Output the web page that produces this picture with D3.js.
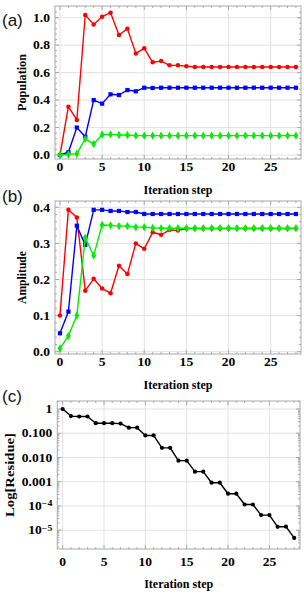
<!DOCTYPE html>
<html>
<head>
<meta charset="utf-8">
<script src="https://cdn.jsdelivr.net/npm/d3@7"></script>
<style>
  html, body { margin: 0; padding: 0; background: #fff; }
  svg { display: block; }
</style>
</head>
<body>
<svg id="chart"></svg>
<script>
// iteration steps 0..28
const steps = [0,1,2,3,4,5,6,7,8,9,10,11,12,13,14,15,16,17,18,19,20,21,22,23,24,25,26,27,28];

// (a) population
const popRed   = [0, 0.352, 0.255, 1.019, 0.951, 1.007, 1.036, 0.874, 0.92, 0.74, 0.777, 0.675, 0.684, 0.653, 0.653, 0.646,
                  0.641, 0.641, 0.641, 0.641, 0.641, 0.641, 0.641, 0.641, 0.641, 0.641, 0.641, 0.641, 0.641];
const popBlue  = [0, 0.02, 0.20, 0.133, 0.40, 0.374, 0.442, 0.437, 0.473, 0.464, 0.49, 0.488,
                  0.49, 0.49, 0.49, 0.49, 0.49, 0.49, 0.49, 0.49, 0.49, 0.49, 0.49, 0.49, 0.49, 0.49, 0.49, 0.49, 0.49];
const popGreen = [0, 0.005, 0.01, 0.117, 0.08, 0.148, 0.15, 0.146, 0.146,
                  0.141, 0.141, 0.141, 0.141, 0.141, 0.141, 0.141, 0.141, 0.141, 0.141, 0.141, 0.141, 0.141, 0.141, 0.141, 0.141, 0.141, 0.141, 0.141, 0.141];

// (b) amplitude
const ampRed   = [0.10, 0.393, 0.372, 0.169, 0.202, 0.175, 0.162, 0.238, 0.215, 0.30, 0.285, 0.331, 0.324, 0.337, 0.336,
                  0.341, 0.341, 0.341, 0.341, 0.341, 0.341, 0.341, 0.341, 0.341, 0.341, 0.341, 0.341, 0.341, 0.341];
const ampBlue  = [0.051, 0.111, 0.349, 0.296, 0.393, 0.393, 0.39, 0.39, 0.387, 0.387,
                  0.3815, 0.3815, 0.3815, 0.3815, 0.3815, 0.3815, 0.3815, 0.3815, 0.3815, 0.3815, 0.3815, 0.3815, 0.3815, 0.3815, 0.3815, 0.3815, 0.3815, 0.3815, 0.3815];
const ampGreen = [0.009, 0.044, 0.10, 0.316, 0.266, 0.351, 0.35, 0.348, 0.348, 0.345, 0.345, 0.343,
                  0.342, 0.342, 0.342, 0.342, 0.342, 0.342, 0.342, 0.342, 0.342, 0.342, 0.342, 0.342, 0.342, 0.342, 0.342, 0.342, 0.342];

// (c) residue
const residue = [1, 0.51, 0.49, 0.49, 0.26, 0.26, 0.26, 0.25, 0.17, 0.17, 0.081, 0.081, 0.025, 0.025, 0.0074, 0.0074,
                 0.0026, 0.0026, 0.00091, 0.00091, 0.00032, 0.00032, 0.000115, 0.000115, 0.000042, 0.000042, 0.0000138, 0.0000141, 0.0000048];

const stepTicks = [0, 5, 10, 15, 20, 25];
const popTicks = [0.0, 0.2, 0.4, 0.6, 0.8, 1.0];
const ampTicks = [0.0, 0.1, 0.2, 0.3, 0.4];
const residueTicks = [1, 0.1, 0.01, 0.001, 1e-4, 1e-5];
const residueTickLabels = ["1", "0.100", "0.010", "0.001", "10^-4", "10^-5"];

const width = 304, height = 594;
const svg = d3.select("#chart").attr("width", width).attr("height", height);

const frameColor = "#a8a8a8";
const gridColor = "#e2e2e2";
const serif = "'Liberation Serif', 'Times New Roman', serif";
const sx = 1.13; // glyphs in the picture are a bit wider than tall

function stretchedText(g, x, y, str, opts) {
    const t = g.append("text")
        .attr("transform", "translate(" + x + "," + y + ") scale(" + sx + ",1)")
        .attr("font-family", serif)
        .attr("font-weight", "bold")
        .attr("font-size", opts.size)
        .attr("text-anchor", opts.anchor)
        .attr("dy", opts.dy || 0)
        .attr("fill", "#000");
    const m = /^10\^(-?\d+)$/.exec(str);
    if (m) {
        t.append("tspan").text("10");
        t.append("tspan").attr("dy", "-0.45em").attr("font-size", opts.size * 0.72).text("\u2212" + m[1].replace("-", ""));
    } else {
        t.text(str);
    }
    return t;
}

function drawPanel(cfg) {
    const g = svg.append("g");
    const x = d3.scaleLinear().domain(cfg.xDomain).range([cfg.left, cfg.right]);
    const y = cfg.y;

    // grid
    g.selectAll(".vg").data(stepTicks).enter().append("line")
        .attr("x1", d => x(d)).attr("x2", d => x(d))
        .attr("y1", cfg.top).attr("y2", cfg.bottom)
        .attr("stroke", gridColor).attr("stroke-width", 1);
    g.selectAll(".hg").data(cfg.yTicks).enter().append("line")
        .attr("x1", cfg.left).attr("x2", cfg.right)
        .attr("y1", d => y(d)).attr("y2", d => y(d))
        .attr("stroke", gridColor).attr("stroke-width", 1);

    // frame
    g.append("rect")
        .attr("x", cfg.left).attr("y", cfg.top)
        .attr("width", cfg.right - cfg.left).attr("height", cfg.bottom - cfg.top)
        .attr("fill", "none").attr("stroke", frameColor).attr("stroke-width", 1);

    // inward ticks on all four sides
    const xMinor = d3.range(0, 29);
    xMinor.forEach(function (d) {
        const len = d % 5 === 0 ? 4 : 2;
        g.append("line").attr("x1", x(d)).attr("x2", x(d)).attr("y1", cfg.bottom).attr("y2", cfg.bottom - len)
            .attr("stroke", frameColor);
        g.append("line").attr("x1", x(d)).attr("x2", x(d)).attr("y1", cfg.top).attr("y2", cfg.top + len)
            .attr("stroke", frameColor);
    });
    cfg.yMinor.forEach(function (d) {
        const major = cfg.yTicks.some(t => Math.abs(t - d) < 1e-9);
        const len = major ? 4 : 2;
        g.append("line").attr("x1", cfg.left).attr("x2", cfg.left + len).attr("y1", y(d)).attr("y2", y(d))
            .attr("stroke", frameColor);
        g.append("line").attr("x1", cfg.right).attr("x2", cfg.right - len).attr("y1", y(d)).attr("y2", y(d))
            .attr("stroke", frameColor);
    });

    // tick labels
    stepTicks.forEach(function (d) {
        stretchedText(g, x(d), cfg.bottom + cfg.xLabelGap, String(d), { size: 12, anchor: "middle" });
    });
    cfg.yTicks.forEach(function (d, i) {
        stretchedText(g, cfg.left - 5, y(d), cfg.yTickLabels[i], { size: 12, anchor: "end", dy: "0.35em" });
    });

    // axis titles
    g.append("text")
        .attr("x", (cfg.left + cfg.right) / 2).attr("y", cfg.titleY)
        .attr("font-family", serif).attr("font-weight", "bold").attr("font-size", 11.5)
        .attr("text-anchor", "middle")
        .attr("textLength", 69).attr("lengthAdjust", "spacingAndGlyphs")
        .text("Iteration step");
    const cy = (cfg.top + cfg.bottom) / 2;
    g.append("text")
        .attr("transform", "translate(" + cfg.yTitleX + "," + cy + ") rotate(-90)")
        .attr("font-family", serif).attr("font-weight", "bold").attr("font-size", 11.5)
        .attr("text-anchor", "middle")
        .attr("textLength", cfg.yTitleLen).attr("lengthAdjust", "spacingAndGlyphs")
        .text(cfg.yTitle);

    // panel letter
    g.append("text")
        .attr("x", 2).attr("y", cfg.letterY)
        .attr("font-family", "'Liberation Sans', Arial, sans-serif").attr("font-size", 17)
        .attr("fill", "#111")
        .text(cfg.letter);

    // series
    cfg.series.forEach(function (s) {
        const line = d3.line().x((d, i) => x(steps[i])).y(d => y(d));
        g.append("path").datum(s.values)
            .attr("d", line)
            .attr("fill", "none").attr("stroke", s.color).attr("stroke-width", 1.4)
            .attr("stroke-linejoin", "round");
        g.selectAll(null).data(s.values).enter().append("path")
            .attr("transform", (d, i) => "translate(" + x(steps[i]) + "," + y(d) + ")")
            .attr("d", d3.symbol().type(s.symbol).size(s.size))
            .attr("fill", s.color);
    });
}

drawPanel({
    letter: "(a)", letterY: 26,
    left: 55, right: 301, top: 6, bottom: 159,
    xDomain: [-0.59, 28.6],
    y: d3.scaleLinear().domain([-0.029, 1.085]).range([159, 6]),
    yTicks: popTicks, yTickLabels: popTicks.map(d => d.toFixed(1)),
    yMinor: d3.range(0, 27).map(i => i * 0.04),
    xLabelGap: 12, titleY: 194,
    yTitle: "Population", yTitleX: 26, yTitleLen: 57,
    series: [
        { values: popRed, color: "#ff0000", symbol: d3.symbolCircle, size: 16 },
        { values: popBlue, color: "#0000ff", symbol: d3.symbolSquare, size: 18 },
        { values: popGreen, color: "#00ee00", symbol: d3.symbolDiamond, size: 20 }
    ]
});

drawPanel({
    letter: "(b)", letterY: 202,
    left: 55, right: 301, top: 201, bottom: 354,
    xDomain: [-0.59, 28.6],
    y: d3.scaleLinear().domain([-0.0064, 0.4175]).range([354, 201]),
    yTicks: ampTicks, yTickLabels: ampTicks.map(d => d.toFixed(1)),
    yMinor: d3.range(0, 21).map(i => i * 0.02),
    xLabelGap: 12, titleY: 389,
    yTitle: "Amplitude", yTitleX: 26, yTitleLen: 53,
    series: [
        { values: ampRed, color: "#ff0000", symbol: d3.symbolCircle, size: 16 },
        { values: ampBlue, color: "#0000ff", symbol: d3.symbolSquare, size: 18 },
        { values: ampGreen, color: "#00ee00", symbol: d3.symbolDiamond, size: 20 }
    ]
});

const logMinor = [];
[-6, -5, -4, -3, -2, -1, 0].forEach(function (e) {
    for (let k = 1; k < 10; k++) {
        const v = k * Math.pow(10, e);
        if (v >= Math.pow(10, -5.77) && v <= Math.pow(10, 0.33)) logMinor.push(v);
    }
});

drawPanel({
    letter: "(c)", letterY: 402,
    left: 57.3, right: 300, top: 401, bottom: 549,
    xDomain: [-0.65, 28.7],
    y: d3.scaleLog().domain([Math.pow(10, -5.775), Math.pow(10, 0.33)]).range([549, 401]),
    yTicks: residueTicks, yTickLabels: residueTickLabels,
    yMinor: logMinor,
    xLabelGap: 17, titleY: 588,
    yTitle: "Log[Residue]", yTitleX: 14, yTitleLen: 84,
    series: [
        { values: residue, color: "#000000", symbol: d3.symbolCircle, size: 14 }
    ]
});
</script>
</body>
</html>
